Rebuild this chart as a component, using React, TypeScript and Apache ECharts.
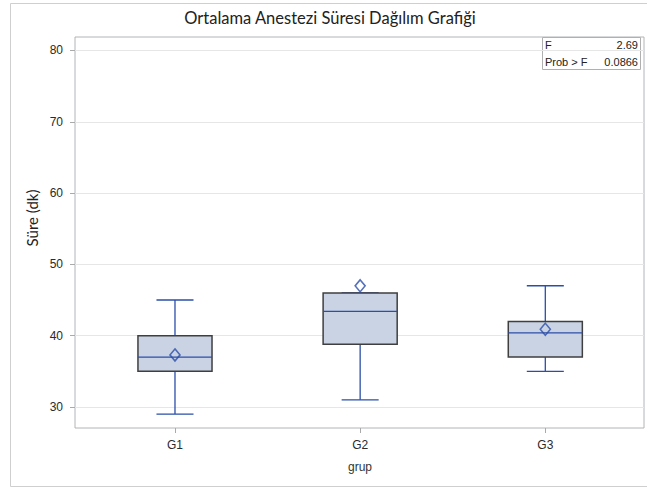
import React, { useEffect, useRef } from "react";
import * as echarts from "echarts";

// Group labels and five-number summaries of anaesthesia duration (minutes)
const groups = ["G1", "G2", "G3"];
const whiskerLow = [29, 31, 35];
const q1 = [35, 38.8, 37];
const median = [37, 43.4, 40.4];
const q3 = [40, 46, 42];
const whiskerHigh = [45, 46, 47];
const means = [37.3, 47, 40.9];

// Value-axis tick labels
const yTicks = [30, 40, 50, 60, 70, 80];

// ANOVA inset
const fStat = "2.69";
const pValue = "0.0866";

const BLUE = "#2b4ea8";
const BOX_FILL = "#cad3e4";
const BOX_EDGE = "#3f3f3f";
const TICK_FONT = "'Liberation Sans', Arial, sans-serif";
const TITLE_FONT = "Lato, 'Open Sans', sans-serif";

export default function App() {
  const ref = useRef<HTMLDivElement>(null);

  useEffect(() => {
    if (!ref.current) return;
    const chart = echarts.init(ref.current, undefined, { renderer: "svg" });

    const boxData = groups.map((_, i) => [
      i + 1,
      whiskerLow[i],
      q1[i],
      median[i],
      q3[i],
      whiskerHigh[i],
    ]);
    const meanData = groups.map((_, i) => [i + 1, means[i]]);

    const renderBox = (params: any, api: any) => {
      const x = api.value(0);
      const lo = api.coord([x, api.value(1)]);
      const b1 = api.coord([x, api.value(2)]);
      const md = api.coord([x, api.value(3)]);
      const b3 = api.coord([x, api.value(4)]);
      const hi = api.coord([x, api.value(5)]);
      const boxW = api.size([0.4, 0])[0];
      const capW = boxW / 2;
      const cx = lo[0];
      const lineStyle = { stroke: BLUE, lineWidth: 1.3 };
      return {
        type: "group",
        children: [
          { type: "line", shape: { x1: cx, y1: lo[1], x2: cx, y2: b1[1] }, style: lineStyle },
          { type: "line", shape: { x1: cx, y1: b3[1], x2: cx, y2: hi[1] }, style: lineStyle },
          { type: "line", shape: { x1: cx - capW / 2, y1: lo[1], x2: cx + capW / 2, y2: lo[1] }, style: lineStyle },
          { type: "line", shape: { x1: cx - capW / 2, y1: hi[1], x2: cx + capW / 2, y2: hi[1] }, style: lineStyle },
          {
            type: "rect",
            shape: { x: cx - boxW / 2, y: b3[1], width: boxW, height: b1[1] - b3[1] },
            style: { fill: BOX_FILL, stroke: BOX_EDGE, lineWidth: 1.5 },
          },
          { type: "line", shape: { x1: cx - boxW / 2, y1: md[1], x2: cx + boxW / 2, y2: md[1] }, style: lineStyle },
        ],
      };
    };

    chart.setOption({
      animation: false,
      backgroundColor: "#ffffff",
      title: {
        text: "Ortalama Anestezi Süresi Dağılım Grafiği",
        left: 330,
        textAlign: "center",
        top: 9,
        padding: 0,
        textStyle: { fontFamily: TITLE_FONT, fontSize: 16.5, fontWeight: "normal", color: "#222" },
      },
      grid: {
        left: 75,
        top: 37,
        width: 569,
        height: 391,
        show: true,
        backgroundColor: "#ffffff",
        borderColor: "#b0b4b8",
        borderWidth: 1,
      },
      xAxis: {
        type: "value",
        min: 0.46,
        max: 3.533,
        axisLine: { show: false },
        splitLine: { show: false },
        axisTick: { show: true, customValues: [1, 2, 3], length: 5, lineStyle: { color: "#aaaaaa" } },
        axisLabel: {
          customValues: [1, 2, 3],
          formatter: (v: number) => groups[Math.round(v) - 1] ?? "",
          color: "#2a2a2a",
          fontSize: 12,
          fontFamily: TICK_FONT,
          margin: 11,
        },
      },
      yAxis: {
        type: "value",
        min: 27.05,
        max: 81.89,
        axisLine: { show: false },
        splitLine: { show: false },
        axisTick: { show: true, customValues: yTicks, length: 5, lineStyle: { color: "#aaaaaa" } },
        axisLabel: {
          customValues: yTicks,
          color: "#2a2a2a",
          fontSize: 12,
          fontFamily: TICK_FONT,
          margin: 12,
        },
      },
      series: [
        {
          type: "custom",
          renderItem: renderBox,
          data: boxData,
          z: 3,
          silent: true,
          markLine: {
            silent: true,
            symbol: "none",
            z: 1,
            label: { show: false },
            lineStyle: { color: "#e6e6e6", type: "solid", width: 1 },
            data: yTicks.map((v) => ({ yAxis: v })),
          },
        },
        {
          type: "scatter",
          data: meanData,
          symbol: "diamond",
          symbolSize: [10, 12],
          z: 4,
          silent: true,
          itemStyle: { color: "rgba(0,0,0,0)", borderColor: BLUE, borderWidth: 1.6 },
        },
      ],
      graphic: [
        {
          type: "rect",
          silent: true,
          shape: { x: 10.5, y: 3.5, width: 700, height: 483 },
          style: { fill: "none", stroke: "#cfcfcf", lineWidth: 1 },
          z: 0,
        },
        {
          type: "text",
          x: 32,
          y: 218,
          rotation: Math.PI / 2,
          style: {
            text: "Süre (dk)",
            fontFamily: TITLE_FONT,
            fontSize: 15,
            fill: "#222",
            align: "center",
            verticalAlign: "middle",
          },
        },
        {
          type: "text",
          x: 360,
          y: 467,
          style: {
            text: "grup",
            fontFamily: TICK_FONT,
            fontSize: 12,
            fill: "#333",
            align: "center",
            verticalAlign: "middle",
          },
        },
        {
          type: "group",
          z: 10,
          children: [
            {
              type: "rect",
              shape: { x: 542.5, y: 37.5, width: 98, height: 32 },
              style: { fill: "#ffffff", stroke: "#b0b0b0", lineWidth: 1 },
            },
            { type: "text", x: 545, y: 45, style: { text: "F", fontFamily: TICK_FONT, fontSize: 11, fill: "#222", verticalAlign: "middle" } },
            { type: "text", x: 638, y: 45, style: { text: fStat, fontFamily: TICK_FONT, fontSize: 11, fill: "#222", align: "right", verticalAlign: "middle" } },
            { type: "text", x: 545, y: 62, style: { text: "Prob > F", fontFamily: TICK_FONT, fontSize: 11, fill: "#222", verticalAlign: "middle" } },
            { type: "text", x: 638, y: 62, style: { text: pValue, fontFamily: TICK_FONT, fontSize: 11, fill: "#222", align: "right", verticalAlign: "middle" } },
          ],
        },
      ],
    });

    return () => chart.dispose();
  }, []);

  return (
    <div
      ref={ref}
      style={{ position: "fixed", left: 0, top: 0, width: 647, height: 488 }}
    />
  );
}
